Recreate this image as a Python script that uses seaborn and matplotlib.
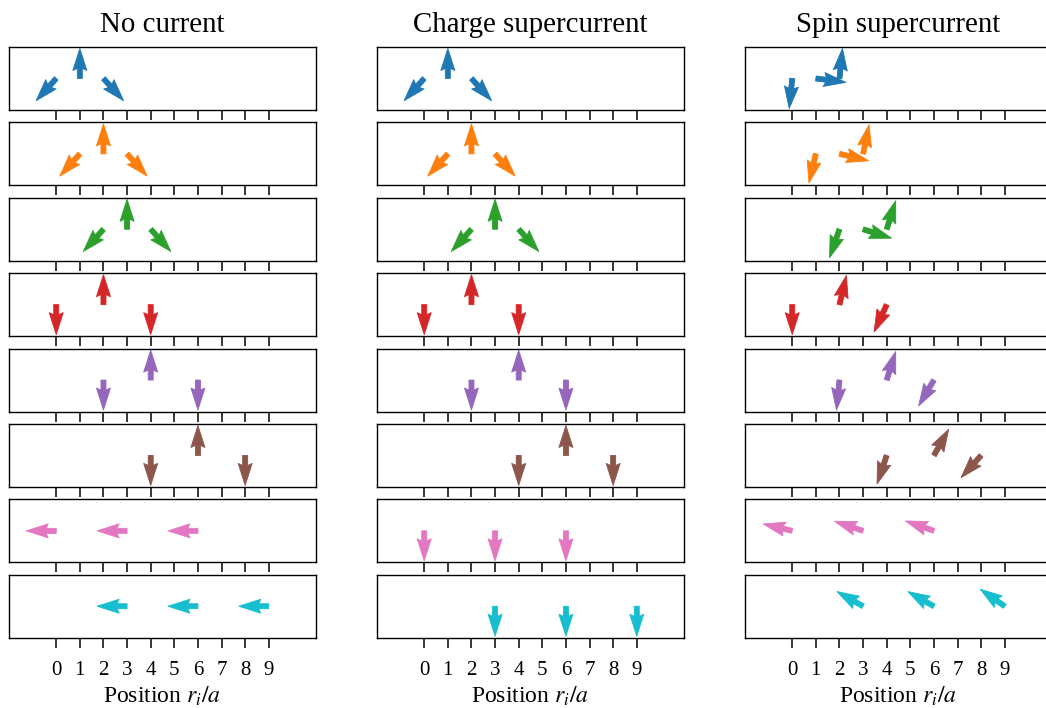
import numpy as np
import matplotlib
matplotlib.use("Agg")
import matplotlib.pyplot as plt
import seaborn as sns

# ---------------- data ----------------
titles = ["No current", "Charge supercurrent", "Spin supercurrent"]
tick_values = list(range(10))
xlabel = "Position $r_i/a$"

# site positions (same for every column), one list per row
positions = [
    [0, 1, 2],
    [1, 2, 3],
    [2, 3, 4],
    [0, 2, 4],
    [2, 4, 6],
    [4, 6, 8],
    [0, 3, 6],
    [3, 6, 9],
]

# spin components (horizontal, vertical) per column, per row
u_none = [
    [-0.67, 0.0, 0.67],
    [-0.67, 0.0, 0.67],
    [-0.67, 0.0, 0.67],
    [0.0, 0.0, 0.0],
    [0.0, 0.0, 0.0],
    [0.0, 0.0, 0.0],
    [-1.0, -1.0, -1.0],
    [-1.0, -1.0, -1.0],
]
v_none = [
    [-0.74, 1.0, -0.74],
    [-0.74, 1.0, -0.74],
    [-0.74, 1.0, -0.74],
    [-1.0, 1.0, -1.0],
    [-1.0, 1.0, -1.0],
    [-1.0, 1.0, -1.0],
    [0.0, 0.0, 0.0],
    [0.0, 0.0, 0.0],
]
u_charge = [
    [-0.67, 0.0, 0.67],
    [-0.67, 0.0, 0.67],
    [-0.67, 0.0, 0.67],
    [0.0, 0.0, 0.0],
    [0.0, 0.0, 0.0],
    [0.0, 0.0, 0.0],
    [0.0, 0.0, 0.0],
    [0.0, 0.0, 0.0],
]
v_charge = [
    [-0.74, 1.0, -0.74],
    [-0.74, 1.0, -0.74],
    [-0.74, 1.0, -0.74],
    [-1.0, 1.0, -1.0],
    [-1.0, 1.0, -1.0],
    [-1.0, 1.0, -1.0],
    [-1.0, -1.0, -1.0],
    [-1.0, -1.0, -1.0],
]
u_spin = [
    [-0.10, 1.0, 0.10],
    [-0.23, 0.97, 0.20],
    [-0.33, 0.95, 0.30],
    [0.0, 0.23, -0.42],
    [-0.10, 0.30, -0.51],
    [-0.32, 0.49, -0.67],
    [-0.97, -0.95, -0.95],
    [-0.87, -0.87, -0.82],
]
v_spin = [
    [-1.0, -0.13, 1.0],
    [-0.97, -0.23, 0.97],
    [-0.95, -0.30, 0.95],
    [-1.0, 0.97, -0.91],
    [-1.0, 0.95, -0.86],
    [-0.95, 0.87, -0.74],
    [0.23, 0.32, 0.33],
    [0.49, 0.49, 0.57],
]
row_color_index = [0, 1, 2, 3, 4, 5, 6, 9]

columns = [(u_none, v_none), (u_charge, v_charge), (u_spin, v_spin)]

# ---------------- style ----------------
sns.set_theme(style="ticks")
plt.rcParams["font.family"] = ["Liberation Serif", "DejaVu Serif"]
plt.rcParams["mathtext.fontset"] = "stix"
plt.rcParams["text.color"] = "black"
plt.rcParams["axes.labelcolor"] = "black"
plt.rcParams["xtick.color"] = "black"
plt.rcParams["xtick.labelcolor"] = "black"
palette = sns.color_palette("tab10")

W, H = 1046, 708
fig = plt.figure(figsize=(W / 100, H / 100), dpi=100)

col_left = [9, 377, 745]
ax_w = 307
row_top0 = 47
row_pitch = 75.4
ax_h = 62.9

for c, (uu, vv) in enumerate(columns):
    for r in range(len(positions)):
        top = row_top0 + r * row_pitch
        rect = [col_left[c] / W, 1 - (top + ax_h) / H, ax_w / W, ax_h / H]
        ax = fig.add_axes(rect)
        x = np.array(positions[r], dtype=float)
        y = np.zeros_like(x)
        col = palette[row_color_index[r]]
        ax.quiver(x, y, uu[r], vv[r], color=col, edgecolor=col, linewidth=0.6,
                  angles="uv", scale_units="inches", scale=1 / 0.30,
                  units="inches", width=0.05, headwidth=2.8, headlength=4.4,
                  headaxislength=4.0, pivot="tail", zorder=3)
        ax.set_xlim(-2, 11)
        ax.set_ylim(-1, 1)
        ax.set_yticks([])
        ax.set_xticks(tick_values)
        ax.tick_params(axis="x", direction="out", length=7.5, width=1.1,
                       color="black", labelsize=15, pad=9)
        for s in ax.spines.values():
            s.set_color("black")
            s.set_linewidth(1.0)
        if r < len(positions) - 1:
            ax.set_xticklabels([])
        else:
            ax.set_xticklabels([str(t) for t in tick_values])
            ax.set_xlabel(xlabel, fontsize=17, labelpad=4)
        if r == 0:
            ax.set_title(titles[c], fontsize=20.8, pad=11)

fig.savefig("out.png", dpi=100)
